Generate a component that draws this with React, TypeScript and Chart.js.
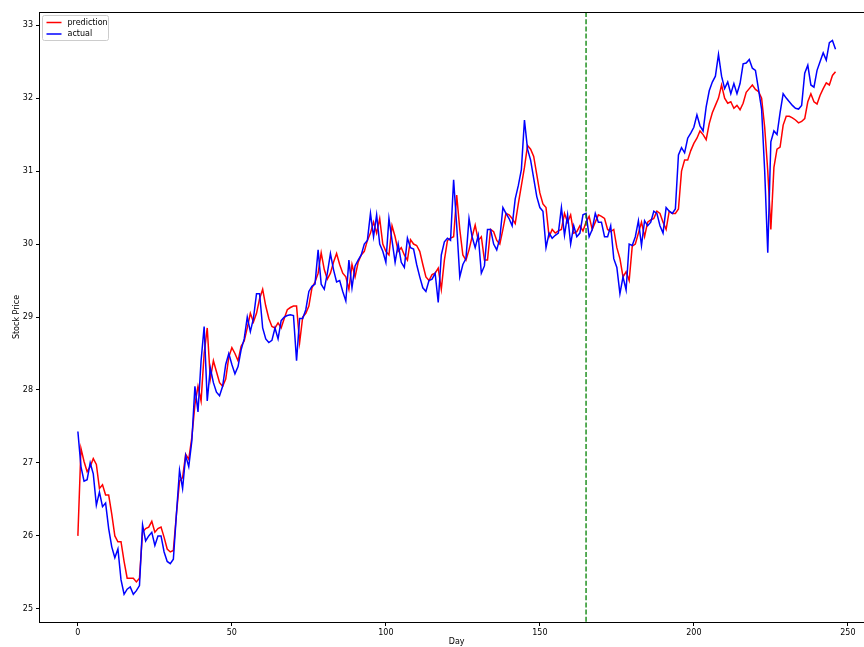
import React, { useEffect, useRef } from "react";
import { Chart, registerables } from "chart.js";

Chart.register(...registerables);

const ACTUAL: number[] = [
  27.43, 26.95, 26.75, 26.77, 27.0, 26.85, 26.42, 26.6, 26.4, 26.45,
  26.1, 25.85, 25.7, 25.82, 25.4, 25.2, 25.27, 25.3, 25.2, 25.25,
  25.32, 26.15, 25.93, 26.0, 26.05, 25.87, 26.0, 26.0, 25.78, 25.65,
  25.62, 25.68, 26.3, 26.9, 26.65, 27.1, 26.95, 27.3, 28.05, 27.7,
  28.4, 28.87, 27.85, 28.3, 28.1, 27.97, 27.92, 28.05, 28.35, 28.5,
  28.35, 28.22, 28.32, 28.55, 28.7, 29.0, 28.8, 28.98, 29.32, 29.32,
  28.85, 28.7, 28.65, 28.68, 28.85, 28.7, 28.95, 29.0, 29.02, 29.03,
  29.02, 28.4, 28.98, 28.98, 29.1, 29.35, 29.42, 29.45, 29.92, 29.45,
  29.38, 29.6, 29.87, 29.65, 29.48, 29.5, 29.35, 29.22, 29.78, 29.4,
  29.7, 29.78, 29.85, 30.0, 30.05, 30.42, 30.1, 30.4, 30.0, 29.9,
  29.75, 30.35, 30.05, 29.75, 30.0, 29.75, 29.68, 30.08, 29.95, 29.93,
  29.72, 29.55, 29.4, 29.35, 29.5, 29.52, 29.6, 29.2, 29.85, 30.03,
  30.08, 30.05, 30.88, 30.25, 29.55, 29.72, 29.8, 30.35, 30.1, 29.95,
  30.12, 29.6, 29.7, 30.2, 30.2, 30.0, 29.92, 30.08, 30.5, 30.42,
  30.35, 30.25, 30.62, 30.8, 31.02, 31.7, 31.3, 31.15, 30.9, 30.65,
  30.5, 30.45, 29.95, 30.15, 30.08, 30.12, 30.15, 30.5, 30.12, 30.4,
  30.0, 30.25, 30.1, 30.15, 30.4, 30.42, 30.1, 30.2, 30.42, 30.3,
  30.3, 30.1, 30.1, 30.25, 29.8, 29.68, 29.32, 29.55, 29.37, 30.0,
  29.98, 30.1, 30.32, 29.98, 30.32, 30.25, 30.3, 30.45, 30.42, 30.25,
  30.15, 30.5, 30.45, 30.42, 30.48, 31.22, 31.32, 31.25, 31.45, 31.52,
  31.6, 31.77, 31.62, 31.55, 31.88, 32.1, 32.22, 32.3, 32.6, 32.3,
  32.13, 32.22, 32.06, 32.2, 32.06, 32.2, 32.47, 32.48, 32.53, 32.41,
  32.38, 32.12, 31.85, 31.0, 29.88, 31.4, 31.55, 31.5, 31.8, 32.06,
  32.0, 31.95, 31.9, 31.86, 31.85, 31.9, 32.34, 32.45, 32.18, 32.15,
  32.38, 32.5, 32.62, 32.52, 32.76, 32.79, 32.67,
];

const PREDICTION: number[] = [
  26.0, 27.2, 27.02, 26.88, 26.95, 27.06, 26.98, 26.65, 26.7, 26.56,
  26.56, 26.3, 26.0, 25.92, 25.92, 25.65, 25.42, 25.42, 25.42, 25.37,
  25.42, 26.05, 26.1, 26.12, 26.2, 26.05, 26.1, 26.12, 25.98, 25.82,
  25.78, 25.8, 26.3, 26.75, 26.8, 27.12, 27.05, 27.35, 27.8, 28.05,
  27.85, 28.5, 28.85, 28.15, 28.4, 28.25, 28.1, 28.05, 28.15, 28.45,
  28.58, 28.5, 28.4, 28.6, 28.67, 28.85, 29.05, 28.93, 29.05, 29.25,
  29.38, 29.15, 28.98, 28.87, 28.85, 28.92, 28.85, 28.98, 29.1, 29.13,
  29.15, 29.15, 28.65, 29.0, 29.05, 29.15, 29.4, 29.48, 29.6, 29.88,
  29.65, 29.52, 29.6, 29.75, 29.87, 29.72, 29.6, 29.55, 29.38, 29.72,
  29.55, 29.75, 29.85, 29.9, 30.05, 30.15, 30.3, 30.15, 30.35, 30.0,
  29.9, 29.85, 30.25, 30.1, 29.9, 29.95, 29.85, 29.78, 30.06, 30.0,
  29.98, 29.9, 29.72, 29.55, 29.5, 29.58, 29.6, 29.67, 29.38, 29.78,
  30.05, 30.08, 30.1, 30.67, 30.2, 29.85, 29.78, 29.92, 30.1, 30.26,
  30.05, 30.1, 29.78, 29.78, 30.2, 30.17, 30.05, 30.0, 30.2, 30.42,
  30.4, 30.35, 30.28, 30.55, 30.8, 31.05, 31.35, 31.3, 31.2, 30.95,
  30.7, 30.55, 30.5, 30.1, 30.2, 30.15, 30.18, 30.2, 30.42, 30.3,
  30.4, 30.15, 30.17, 30.25, 30.18, 30.3, 30.38, 30.2, 30.3, 30.4,
  30.38, 30.35, 30.2, 30.17, 30.2, 29.95, 29.8, 29.55, 29.62, 29.5,
  29.97, 30.0, 30.15, 30.3, 30.1, 30.3, 30.33, 30.35, 30.45, 30.42,
  30.3, 30.2, 30.45, 30.42, 30.42, 30.48, 31.0, 31.15, 31.15, 31.28,
  31.38, 31.45, 31.55, 31.5, 31.43, 31.65, 31.8, 31.9, 32.0, 32.18,
  32.0, 31.93, 31.95, 31.86, 31.9, 31.84, 31.93, 32.08, 32.13, 32.18,
  32.12, 32.09, 32.0, 31.6, 31.0, 30.2, 31.05, 31.3, 31.33, 31.63,
  31.75, 31.75, 31.73, 31.7, 31.66, 31.68, 31.72, 31.95, 32.06, 31.95,
  31.92, 32.04, 32.13, 32.21, 32.18, 32.31, 32.36,
];

const X_TICKS: number[] = [0, 50, 100, 150, 200, 250];
const Y_TICKS: number[] = [25, 26, 27, 28, 29, 30, 31, 32, 33];
const SPLIT_DAY = 165;
const X_LABEL = "Day";
const Y_LABEL = "Stock Price";
const SERIES_NAMES = ["prediction", "actual"];

const FONT = "'DejaVu Sans', sans-serif";

const framePlugin = {
  id: "frameAndExtras",
  afterDatasetsDraw(chart: any) {
    const { ctx, chartArea, scales } = chart;
    const { left, top, right, bottom } = chartArea;
    const xs = scales.x.getPixelForValue(SPLIT_DAY);
    ctx.save();
    ctx.strokeStyle = "#008000";
    ctx.lineWidth = 1.3;
    ctx.setLineDash([5, 2.2]);
    ctx.beginPath();
    ctx.moveTo(xs, top);
    ctx.lineTo(xs, bottom);
    ctx.stroke();
    ctx.restore();
    ctx.save();
    ctx.strokeStyle = "#000";
    ctx.lineWidth = 1;
    ctx.strokeRect(Math.round(left) - 0.5, Math.round(top) + 0.5, right - left, Math.round(bottom) - Math.round(top));
    ctx.restore();
    const ds = chart.data.datasets;
    const bx = left + 2.5;
    const by = top + 3.5;
    const bw = 66;
    const bh = 25;
    ctx.save();
    ctx.fillStyle = "rgba(255,255,255,0.8)";
    ctx.strokeStyle = "#cccccc";
    ctx.lineWidth = 1;
    ctx.beginPath();
    (ctx as any).roundRect(bx, by, bw, bh, 2);
    ctx.fill();
    ctx.stroke();
    ctx.font = `8px ${FONT}`;
    ctx.textBaseline = "middle";
    ctx.textAlign = "left";
    ds.forEach((d: any, i: number) => {
      const y = by + 7 + i * 11.5;
      ctx.strokeStyle = d.borderColor;
      ctx.lineWidth = 1.5;
      ctx.beginPath();
      ctx.moveTo(bx + 4, y);
      ctx.lineTo(bx + 19, y);
      ctx.stroke();
      ctx.fillStyle = "#000";
      ctx.fillText(d.label, bx + 25, y);
    });
    ctx.restore();
  },
};

export default function App() {
  const ref = useRef<HTMLCanvasElement | null>(null);
  useEffect(() => {
    if (!ref.current) return;
    const chart = new Chart(ref.current, {
      type: "line",
      data: {
        datasets: [
          {
            label: SERIES_NAMES[0],
            data: PREDICTION.map((v, i) => ({ x: i, y: v })),
            borderColor: "#ff0000",
            backgroundColor: "#ff0000",
            borderWidth: 1.5,
            pointRadius: 0,
            tension: 0,
            order: 1,
          },
          {
            label: SERIES_NAMES[1],
            data: ACTUAL.map((v, i) => ({ x: i, y: v })),
            borderColor: "#0000ff",
            backgroundColor: "#0000ff",
            borderWidth: 1.5,
            pointRadius: 0,
            tension: 0,
            order: 0,
          },
        ],
      },
      options: {
        animation: false,
        responsive: false,
        devicePixelRatio: 1,
        layout: { padding: { left: 0, top: 12, right: 6.6, bottom: 0 } },
        plugins: {
          legend: { display: false },
          tooltip: { enabled: false },
        },
        scales: {
          x: {
            type: "linear",
            min: -12.3,
            max: 258.3,
            afterBuildTicks: (axis: any) => {
              axis.ticks = X_TICKS.map((v) => ({ value: v }));
            },
            afterFit: (axis: any) => {
              axis.height = 25;
            },
            grid: {
              display: true,
              drawOnChartArea: false,
              drawTicks: true,
              tickLength: 4,
              color: "#000",
            },
            border: { display: false },
            ticks: {
              color: "#000",
              font: { family: FONT, size: 8 },
              padding: 2,
              maxRotation: 0,
              autoSkip: false,
            },
            title: {
              display: true,
              text: X_LABEL,
              color: "#000",
              font: { family: FONT, size: 8 },
              padding: { top: -1.5, bottom: 0 },
            },
          },
          y: {
            type: "linear",
            min: 24.82,
            max: 33.18,
            afterBuildTicks: (axis: any) => {
              axis.ticks = Y_TICKS.map((v) => ({ value: v }));
            },
            afterFit: (axis: any) => {
              axis.width = 40;
            },
            grid: {
              display: true,
              drawOnChartArea: false,
              drawTicks: true,
              tickLength: 4,
              color: "#000",
            },
            border: { display: false },
            ticks: {
              color: "#000",
              font: { family: FONT, size: 8 },
              padding: 3,
              autoSkip: false,
            },
            title: {
              display: true,
              text: Y_LABEL,
              color: "#000",
              font: { family: FONT, size: 8 },
              padding: { top: 12.5, bottom: 0 },
            },
          },
        },
      },
      plugins: [framePlugin],
    } as any);
    return () => chart.destroy();
  }, []);

  return (
    <div
      style={{
        position: "fixed",
        left: 0,
        top: 0,
        width: 864,
        height: 647,
        overflow: "hidden",
        background: "#fff",
      }}
    >
      <canvas ref={ref} width={880} height={647} style={{ display: "block" }} />
    </div>
  );
}
